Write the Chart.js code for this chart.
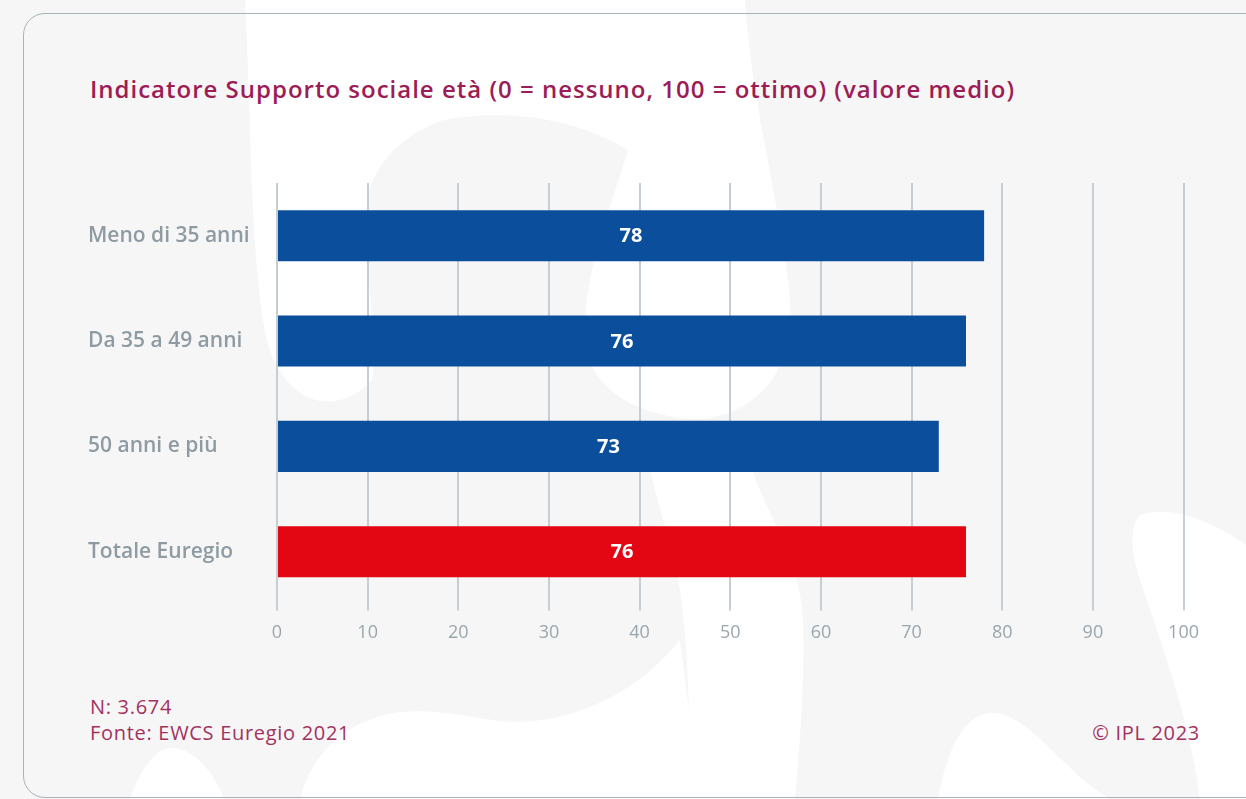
<!DOCTYPE html>
<html lang="it">
<head>
<meta charset="utf-8">
<title>Indicatore Supporto sociale età</title>
<script src="https://cdn.jsdelivr.net/npm/chart.js@4"></script>
<style>
  html, body { margin: 0; padding: 0; }
  body {
    width: 1246px; height: 799px; overflow: hidden; position: relative;
    background: #f6f6f6; font-family: "Open Sans", sans-serif;
  }
  #deco { position: absolute; left: 0; top: 0; }
  .card {
    position: absolute; left: 23px; top: 13px; width: 1260px; height: 785px;
    border: 1.5px solid #a9b4ba; border-radius: 22px; box-sizing: border-box;
  }
  h1 {
    position: absolute; left: 90px; top: 71px; margin: 0;
    font-size: 24px; font-weight: 600; letter-spacing: 1px;
    color: #9c1d55; white-space: nowrap; line-height: 36px;
  }
  .foot {
    position: absolute; font-size: 20px; letter-spacing: 0.7px;
    color: #a2325f; line-height: 26px;
  }
  #note { left: 90px; top: 694px; }
  #copy { right: 46px; top: 720px; }
  #wrap { position: absolute; left: 88px; top: 170px; width: 1123px; height: 492px; }
</style>
</head>
<body>
<svg id="deco" width="1246" height="799">
  <g fill="#ffffff">
    <path d="M245,0 L745,0 C752,120 795,260 790,330 C782,395 730,425 680,418 C622,410 588,380 585,340 C583,270 612,205 628,150 C560,110 490,112 444,120 C400,135 375,165 368,195 C360,260 380,330 372,380 C340,415 290,410 268,345 C250,270 252,130 245,0 Z"/>
    <path d="M650,467 C690,460 735,455 752,470 C770,520 800,560 803,620 C805,680 800,740 795,799 L690,799 C690,720 688,640 680,590 C672,540 655,500 650,467 Z"/>
    <path d="M300,799 C310,760 340,720 400,712 C450,708 480,722 520,722 C580,720 640,690 680,640 L700,799 Z"/>
    <path d="M130,799 C140,770 155,748 172,748 C195,748 215,775 224,799 Z"/>
    <path d="M938,799 C945,760 960,715 990,713 C1030,712 1060,770 1110,799 Z"/>
    <path d="M1140,515 C1170,505 1210,520 1246,545 L1246,799 L1200,799 C1190,720 1160,640 1140,580 C1130,550 1130,525 1140,515 Z"/>
  </g>
</svg>
<div class="card"></div>
<h1>Indicatore Supporto sociale età (0 = nessuno, 100 = ottimo) (valore medio)</h1>
<div id="wrap"><canvas id="chart"></canvas></div>
<div class="foot" id="note">N: 3.674<br>Fonte: EWCS Euregio 2021</div>
<div class="foot" id="copy">© IPL 2023</div>

<script>
const categories = ['Meno di 35 anni', 'Da 35 a 49 anni', '50 anni e più', 'Totale Euregio'];
const values = [78, 76, 73, 76];
const barColors = ['#0b4f9c', '#0b4f9c', '#0b4f9c', '#e30613'];
const xTicks = [0, 10, 20, 30, 40, 50, 60, 70, 80, 90, 100];

// writes each value in white in the middle of its bar
const valueLabels = {
  id: 'valueLabels',
  afterDatasetsDraw(chart) {
    const ctx = chart.ctx;
    const meta = chart.getDatasetMeta(0);
    ctx.save();
    ctx.fillStyle = '#ffffff';
    ctx.font = '700 20px "Open Sans"';
    ctx.textAlign = 'center';
    ctx.textBaseline = 'middle';
    meta.data.forEach((bar, i) => {
      const p = bar.getProps(['x', 'y', 'base'], true);
      ctx.fillText(String(chart.data.datasets[0].data[i]), (p.x + p.base) / 2, p.y + 1);
    });
    ctx.restore();
  }
};

new Chart(document.getElementById('chart'), {
  type: 'bar',
  data: {
    labels: categories,
    datasets: [{
      data: values,
      backgroundColor: barColors,
      borderWidth: 0,
      categoryPercentage: 1,
      barPercentage: 0.485
    }]
  },
  options: {
    indexAxis: 'y',
    responsive: true,
    maintainAspectRatio: false,
    animation: false,
    layout: { padding: { top: 13, bottom: 6, right: 0, left: 0 } },
    plugins: { legend: { display: false }, tooltip: { enabled: false } },
    scales: {
      x: {
        min: 0, max: 100,
        afterBuildTicks: (scale) => { scale.ticks = xTicks.map(v => ({ value: v })); },
        border: { display: false },
        grid: { color: '#c6ced3', lineWidth: 2, tickLength: 6 },
        ticks: { color: '#9aa6ad', padding: 12, font: { family: 'Open Sans', size: 18 } }
      },
      y: {
        border: { display: false },
        grid: { display: false },
        afterFit: (scale) => { scale.width = 189; },
        ticks: {
          crossAlign: 'far',
          color: '#8f9ba3',
          padding: 0,
          font: { family: 'Open Sans', size: 21, weight: '600' }
        }
      }
    }
  },
  plugins: [valueLabels]
});
</script>
</body>
</html>
